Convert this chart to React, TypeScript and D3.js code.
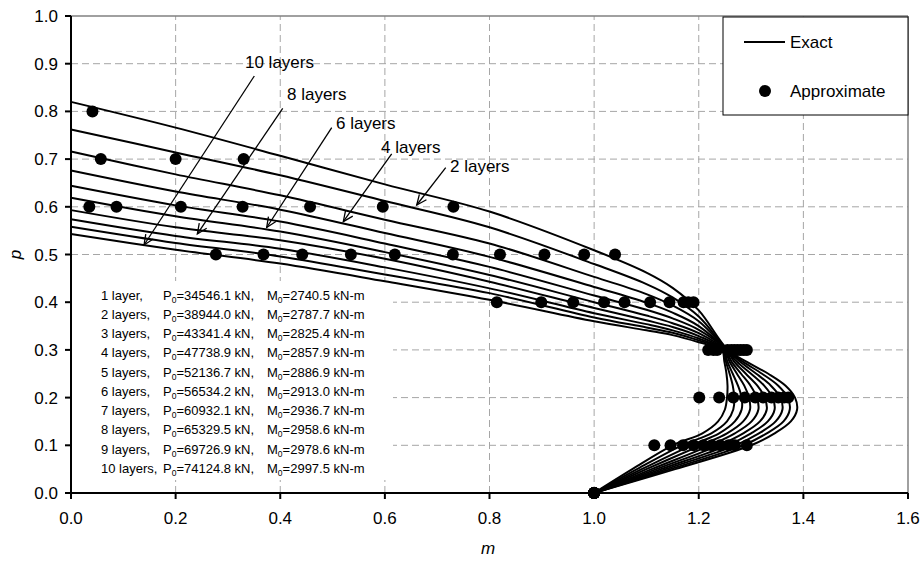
import React from "react";
import * as d3 from "d3";

// ---------- data ----------
const xTicks = [0, 0.2, 0.4, 0.6, 0.8, 1.0, 1.2, 1.4, 1.6];
const yTicks = [0, 0.1, 0.2, 0.3, 0.4, 0.5, 0.6, 0.7, 0.8, 0.9, 1.0];

// Exact curves, upper branch: p read at these m values (1 layer .. 10 layers)
const upperM = [0, 0.2, 0.4, 0.6, 0.8, 1.0, 1.1, 1.15, 1.2];
const upperP1 = [0.820, 0.766, 0.707, 0.647, 0.590, 0.509, 0.462, 0.430, 0.383];
const upperP2 = [0.762, 0.714, 0.666, 0.612, 0.557, 0.480, 0.438, 0.410, 0.370];
const upperP3 = [0.716, 0.668, 0.624, 0.573, 0.523, 0.453, 0.417, 0.393, 0.360];
const upperP4 = [0.676, 0.632, 0.594, 0.545, 0.495, 0.432, 0.399, 0.378, 0.350];
const upperP5 = [0.644, 0.603, 0.569, 0.523, 0.474, 0.414, 0.384, 0.366, 0.342];
const upperP6 = [0.619, 0.580, 0.548, 0.505, 0.457, 0.400, 0.372, 0.356, 0.335];
const upperP7 = [0.593, 0.557, 0.530, 0.491, 0.443, 0.388, 0.362, 0.348, 0.329];
const upperP8 = [0.574, 0.539, 0.512, 0.473, 0.429, 0.377, 0.354, 0.341, 0.324];
const upperP9 = [0.558, 0.524, 0.496, 0.458, 0.419, 0.368, 0.347, 0.336, 0.320];
const upperP10 = [0.543, 0.510, 0.481, 0.444, 0.405, 0.360, 0.341, 0.331, 0.316];

// Exact curves, lower branch: m read at these p values
const lowerP = [0.3, 0.275, 0.25, 0.225, 0.2, 0.175, 0.15, 0.125, 0.1, 0.05, 0];
const lowerM1 = [1.256, 1.292, 1.333, 1.366, 1.384, 1.388, 1.376, 1.345, 1.300, 1.155, 1.0];
const lowerM2 = [1.255, 1.285, 1.321, 1.352, 1.370, 1.374, 1.362, 1.330, 1.285, 1.146, 1.0];
const lowerM3 = [1.254, 1.279, 1.310, 1.338, 1.356, 1.360, 1.347, 1.315, 1.270, 1.137, 1.0];
const lowerM4 = [1.253, 1.273, 1.300, 1.325, 1.341, 1.345, 1.332, 1.300, 1.255, 1.128, 1.0];
const lowerM5 = [1.252, 1.268, 1.290, 1.312, 1.326, 1.330, 1.317, 1.285, 1.239, 1.119, 1.0];
const lowerM6 = [1.250, 1.263, 1.281, 1.299, 1.311, 1.314, 1.301, 1.269, 1.222, 1.110, 1.0];
const lowerM7 = [1.249, 1.259, 1.273, 1.287, 1.296, 1.298, 1.285, 1.254, 1.204, 1.100, 1.0];
const lowerM8 = [1.247, 1.255, 1.265, 1.275, 1.282, 1.282, 1.269, 1.239, 1.186, 1.091, 1.0];
const lowerM9 = [1.246, 1.252, 1.259, 1.265, 1.268, 1.266, 1.254, 1.224, 1.168, 1.082, 1.0];
const lowerM10 = [1.244, 1.249, 1.253, 1.255, 1.254, 1.250, 1.237, 1.207, 1.150, 1.073, 1.0];

const upperSeries = [upperP1, upperP2, upperP3, upperP4, upperP5, upperP6, upperP7, upperP8, upperP9, upperP10];
const lowerSeries = [lowerM1, lowerM2, lowerM3, lowerM4, lowerM5, lowerM6, lowerM7, lowerM8, lowerM9, lowerM10];

// Approximate points, grouped by p level
const approxP = [0.8, 0.7, 0.6, 0.5, 0.4, 0.3, 0.2, 0.1, 0.0];
const approxM08 = [0.041];
const approxM07 = [0.057, 0.200, 0.330];
const approxM06 = [0.035, 0.087, 0.210, 0.328, 0.457, 0.596, 0.731];
const approxM05 = [0.277, 0.368, 0.442, 0.535, 0.619, 0.730, 0.820, 0.905, 0.981, 1.040];
const approxM04 = [0.814, 0.899, 0.960, 1.019, 1.058, 1.107, 1.144, 1.171, 1.180, 1.190];
const approxM03 = [1.218, 1.228, 1.235, 1.255, 1.262, 1.268, 1.274, 1.280, 1.286, 1.292];
const approxM02 = [1.201, 1.239, 1.266, 1.288, 1.308, 1.323, 1.339, 1.352, 1.363, 1.371];
const approxM01 = [1.115, 1.146, 1.170, 1.190, 1.209, 1.225, 1.241, 1.257, 1.269, 1.292];
const approxM00 = [1.0, 1.0, 1.0, 1.0, 1.0, 1.0, 1.0, 1.0, 1.0, 1.0];
const approxSeries = [approxM08, approxM07, approxM06, approxM05, approxM04, approxM03, approxM02, approxM01, approxM00];

// Arrow annotations (label, label anchor, arrow start, arrow tip) in data units
const arrowLabels = ["10 layers", "8 layers", "6 layers", "4 layers", "2 layers"];
const arrowTextM = [0.3326, 0.4129, 0.5066, 0.5926, 0.7245];
const arrowTextP = [0.9036, 0.8365, 0.7763, 0.7260, 0.6862];
const arrowFromM = [0.3504, 0.4047, 0.4984, 0.6130, 0.7163];
const arrowFromP = [0.8742, 0.8065, 0.7658, 0.7107, 0.6820];
const arrowToM = [0.1396, 0.2415, 0.3741, 0.5205, 0.6609];
const arrowToP = [0.5199, 0.5430, 0.5566, 0.5688, 0.6038];

// Info block
const layerLabels = ["1 layer,", "2 layers,", "3 layers,", "4 layers,", "5 layers,", "6 layers,", "7 layers,", "8 layers,", "9 layers,", "10 layers,"];
const p0Values = ["34546.1", "38944.0", "43341.4", "47738.9", "52136.7", "56534.2", "60932.1", "65329.5", "69726.9", "74124.8"];
const m0Values = ["2740.5", "2787.7", "2825.4", "2857.9", "2886.9", "2913.0", "2936.7", "2958.6", "2978.6", "2997.5"];

// ---------- component ----------
const W = 924;
const H = 561;
const FONT = "'Liberation Sans', Arial, Helvetica, sans-serif";

export default function App() {
  const x = d3.scaleLinear().domain([0, 1.6]).range([71, 908]);
  const y = d3.scaleLinear().domain([0, 1]).range([493, 16]);

  const line = d3
    .line<[number, number]>()
    .x((d) => x(d[0]))
    .y((d) => y(d[1]))
    .curve(d3.curveCatmullRom.alpha(0.5));

  const curves = upperSeries.map((up, i) => {
    const pts: [number, number][] = upperM.map((m, j) => [m, up[j]] as [number, number]);
    lowerSeries[i].forEach((m, j) => pts.push([m, lowerP[j]]));
    return pts;
  });

  const dots: [number, number][] = [];
  approxSeries.forEach((ms, k) => ms.forEach((m) => dots.push([m, approxP[k]])));

  const fmt = d3.format(".1f");

  const arrowHead = (x1: number, y1: number, x2: number, y2: number) => {
    const ang = Math.atan2(y1 - y2, x1 - x2);
    const L = 11;
    const a = (24 * Math.PI) / 180;
    const p1 = [x2 + L * Math.cos(ang + a), y2 + L * Math.sin(ang + a)];
    const p2 = [x2 + L * Math.cos(ang - a), y2 + L * Math.sin(ang - a)];
    return `M${p1[0]},${p1[1]}L${x2},${y2}L${p2[0]},${p2[1]}`;
  };

  return (
    <svg
      width={W}
      height={H}
      style={{ position: "absolute", left: 0, top: 0, display: "block", background: "#fff" }}
      fontFamily={FONT}
    >
      <rect x={0} y={0} width={W} height={H} fill="#fff" />
      {/* grid */}
      <g stroke="#a6a6a6" strokeWidth={1} strokeDasharray="7,4">
        {xTicks.slice(1, -1).map((t) => (
          <line key={"gx" + t} x1={x(t)} x2={x(t)} y1={y(0)} y2={y(1)} />
        ))}
        {yTicks.slice(1, -1).map((t) => (
          <line key={"gy" + t} x1={x(0)} x2={x(1.6)} y1={y(t)} y2={y(t)} />
        ))}
      </g>
      {/* plot border top/right */}
      <line x1={x(0)} x2={x(1.6)} y1={y(1)} y2={y(1)} stroke="#808080" strokeWidth={1.5} />
      <line x1={x(1.6)} x2={x(1.6)} y1={y(0)} y2={y(1)} stroke="#808080" strokeWidth={1.5} />

      {/* info block background */}
      <rect x={72} y={281} width={321} height={199} fill="#fff" />
      <g fontSize={13} fill="#000">
        {layerLabels.map((lab, i) => {
          const yy = 299.5 + i * 19.25;
          return (
            <g key={"info" + i}>
              <text x={101} y={yy}>{lab}</text>
              <text x={163} y={yy}>
                P<tspan fontSize={8.5} dy={3}>0</tspan>
                <tspan dy={-3}>{"=" + p0Values[i] + " kN,"}</tspan>
              </text>
              <text x={267} y={yy}>
                M<tspan fontSize={8.5} dy={3}>0</tspan>
                <tspan dy={-3}>{"=" + m0Values[i] + " kN-m"}</tspan>
              </text>
            </g>
          );
        })}
      </g>

      {/* exact curves */}
      <g fill="none" stroke="#000" strokeWidth={2}>
        {curves.map((pts, i) => (
          <path key={"c" + i} d={line(pts) || ""} />
        ))}
      </g>

      {/* approximate points */}
      <g fill="#000">
        {dots.map((d, i) => (
          <circle key={"d" + i} cx={x(d[0])} cy={y(d[1])} r={6} />
        ))}
      </g>

      {/* arrows */}
      <g stroke="#000" strokeWidth={1.3} fill="none">
        {arrowLabels.map((lab, i) => {
          const x1 = x(arrowFromM[i]);
          const y1 = y(arrowFromP[i]);
          const x2 = x(arrowToM[i]);
          const y2 = y(arrowToP[i]);
          return (
            <g key={"a" + i}>
              <line x1={x1} y1={y1} x2={x2} y2={y2} />
              <path d={arrowHead(x1, y1, x2, y2)} />
            </g>
          );
        })}
      </g>
      <g fontSize={17} fill="#000">
        {arrowLabels.map((lab, i) => (
          <text key={"al" + i} x={x(arrowTextM[i])} y={y(arrowTextP[i]) + 6}>
            {lab}
          </text>
        ))}
      </g>

      {/* axes */}
      <line x1={x(0)} x2={x(0)} y1={y(0) + 1} y2={y(1)} stroke="#000" strokeWidth={2} />
      <line x1={x(0) - 1} x2={x(1.6)} y1={y(0)} y2={y(0)} stroke="#000" strokeWidth={2} />
      <g stroke="#000" strokeWidth={2}>
        {yTicks.map((t) => (
          <line key={"ty" + t} x1={x(0) - 6} x2={x(0)} y1={y(t)} y2={y(t)} />
        ))}
        {xTicks.map((t) => (
          <line key={"tx" + t} x1={x(t)} x2={x(t)} y1={y(0)} y2={y(0) + 6} />
        ))}
      </g>
      <g fontSize={17} fill="#000">
        {yTicks.map((t) => (
          <text key={"ly" + t} x={x(0) - 13} y={y(t) + 6} textAnchor="end">
            {fmt(t)}
          </text>
        ))}
        {xTicks.map((t) => (
          <text key={"lx" + t} x={x(t)} y={524} textAnchor="middle">
            {fmt(t)}
          </text>
        ))}
      </g>
      <text x={488} y={554} fontSize={17} fontStyle="italic" textAnchor="middle">
        m
      </text>
      <text
        transform={`translate(21,${y(0.5)}) rotate(-90)`}
        fontSize={17}
        fontStyle="italic"
        textAnchor="middle"
      >
        p
      </text>

      {/* legend */}
      <rect x={723} y={17} width={185} height={98} fill="#fff" stroke="#000" strokeWidth={1} />
      <line x1={744} x2={785} y1={42} y2={42} stroke="#000" strokeWidth={2} />
      <text x={790} y={48} fontSize={17}>Exact</text>
      <circle cx={765} cy={91} r={6} fill="#000" />
      <text x={790} y={97} fontSize={17}>Approximate</text>
    </svg>
  );
}
